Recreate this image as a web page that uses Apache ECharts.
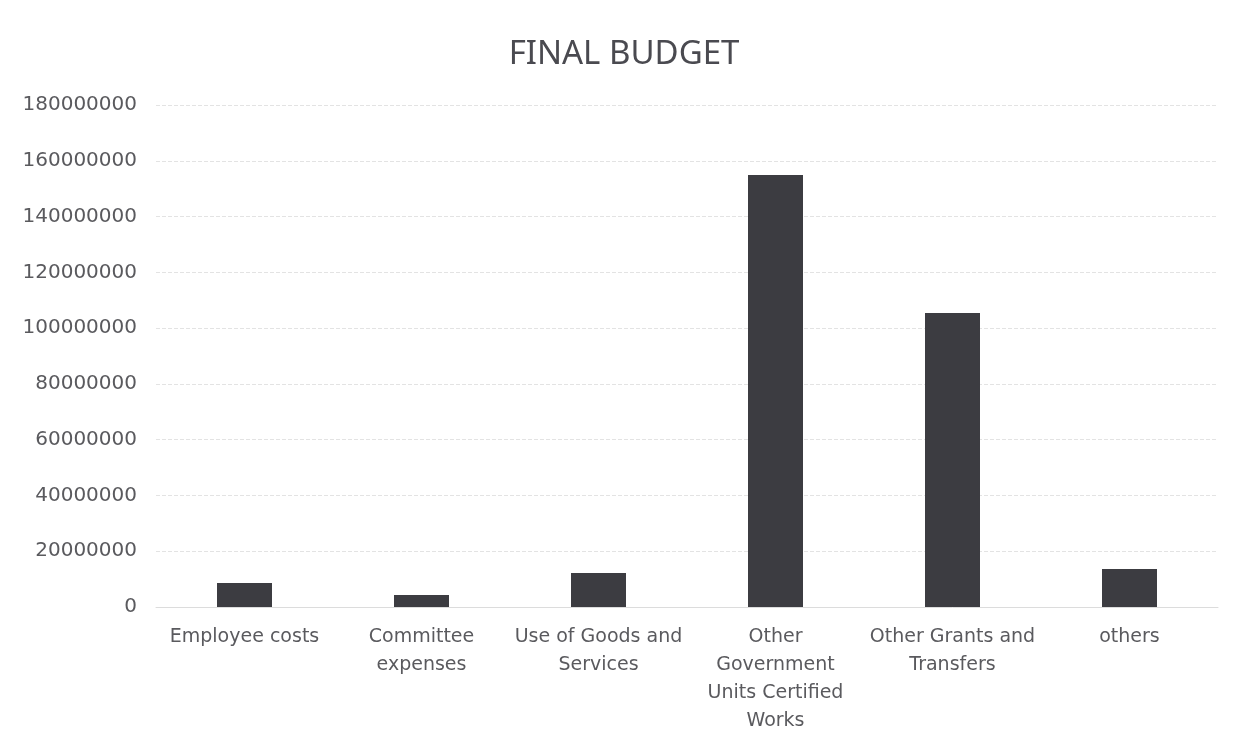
<!DOCTYPE html>
<html><head><meta charset="utf-8">
<script src="https://cdn.jsdelivr.net/npm/echarts@6/dist/echarts.min.js"></script>
<style>html,body{margin:0;padding:0;background:#fff}#c{width:1248px;height:749px}</style>
</head><body><div id="c"></div>
<script>
const categories = ["Employee costs", "Committee\nexpenses", "Use of Goods and\nServices", "Other\nGovernment\nUnits Certified\nWorks", "Other Grants and\nTransfers", "others"];
const values = [8600000, 4300000, 12200000, 154900000, 105400000, 13600000];
const chart = echarts.init(document.getElementById('c'));
chart.setOption({
  animation: false,
  backgroundColor: '#ffffff',
  title: { text: 'FINAL BUDGET', left: 'center', top: 33, textStyle: { fontFamily: 'Noto Sans', fontSize: 33, fontWeight: 'normal', color: '#4a4a50' } },
  grid: { left: 156, right: 30, top: 105, bottom: 142, containLabel: false },
  xAxis: {
    type: 'category', data: categories,
    axisLine: { show: true, lineStyle: { color: '#dcdcdc' } },
    axisTick: { show: false },
    axisLabel: { fontFamily: 'DejaVu Sans', fontSize: 19, color: '#5a5a5e', lineHeight: 28, margin: 16, interval: 0 }
  },
  yAxis: {
    type: 'value', min: 0, max: 180000000, interval: 20000000,
    axisLine: { show: false }, axisTick: { show: false },
    axisLabel: { fontFamily: 'DejaVu Sans', fontSize: 20, color: '#5a5a5e', margin: 19, formatter: v => String(v) },
    splitLine: { lineStyle: { color: '#e3e3e3', type: 'dashed' } }
  },
  series: [{ type: 'bar', data: values, barWidth: 55, itemStyle: { color: '#3c3c41' } }]
});
</script></body></html>
